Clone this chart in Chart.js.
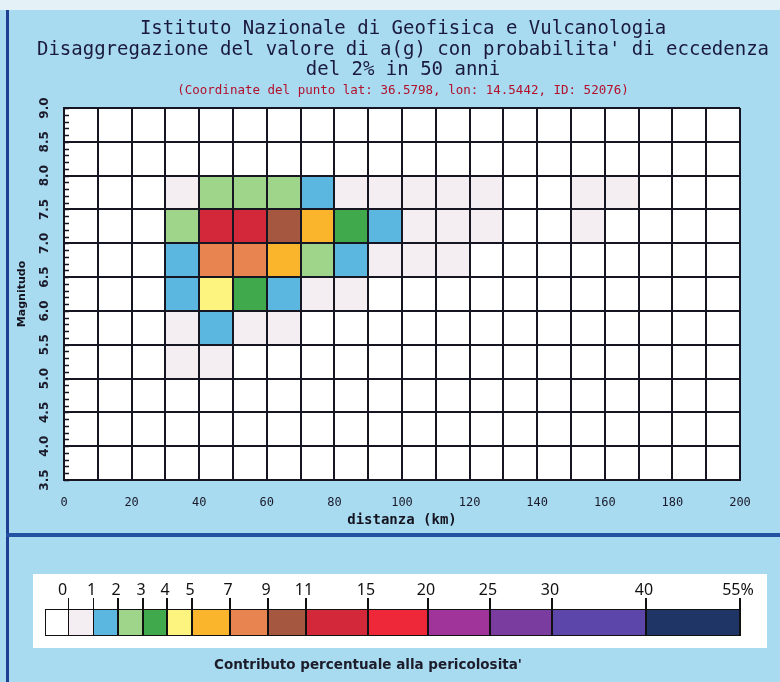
<!DOCTYPE html>
<html>
<head>
<meta charset="utf-8">
<script src="https://cdn.jsdelivr.net/npm/chart.js@4.4.1/dist/chart.umd.min.js"></script>
<style>
  html, body { margin:0; padding:0; }
  body { width:780px; height:682px; background:#a8daf0; position:relative; overflow:hidden; }
  #topstrip { position:absolute; left:0; top:0; width:780px; height:10px; background:#e4f1f7; }
  #leftborder { position:absolute; left:6px; top:10px; width:3px; height:672px; background:#1f3f92; }
  #sep { position:absolute; left:6px; top:533px; width:774px; height:4px; background:#2352a3; }
  #titles { position:absolute; left:6px; top:17px; width:794px; text-align:center;
            font-family:"DejaVu Sans Mono", monospace; font-size:19px; line-height:20.5px; color:#1a1a3c; }
  #subtitle { position:absolute; left:6px; top:83px; width:794px; text-align:center;
            font-family:"DejaVu Sans Mono", monospace; font-size:12.5px; line-height:14px; color:#b3102c; }
  #chartbox { position:absolute; left:0; top:0; width:780px; height:540px; }
  #legendpanel { position:absolute; left:33px; top:574px; width:734px; height:74px; background:#ffffff; }
  #legend { position:absolute; left:0; top:0; width:780px; height:682px; }
  .seg { position:absolute; top:610px; height:26px; }
  .tick { position:absolute; top:598px; width:1.5px; height:38px; background:#111; }
  .lab { position:absolute; top:580px; width:60px; margin-left:-32px; text-align:center;
         font-family:"Noto Sans", sans-serif; font-size:16px; line-height:18px; color:#111; }
  #barframe { position:absolute; left:45px; top:609px; width:695px; height:27px; border:1.5px solid #111; box-sizing:border-box; }
  #caption { position:absolute; left:0; top:656px; width:736px; text-align:center;
             font-family:"DejaVu Sans", sans-serif; font-weight:bold; font-size:13.5px; color:#1c1c2a; }
</style>
</head>
<body>
<div id="topstrip"></div>
<div id="chartbox"><canvas id="c"></canvas></div>
<div id="titles">Istituto Nazionale di Geofisica e Vulcanologia<br>Disaggregazione del valore di a(g) con probabilita' di eccedenza<br>del 2% in 50 anni</div>
<div id="subtitle">(Coordinate del punto lat: 36.5798, lon: 14.5442, ID: 52076)</div>
<div id="leftborder"></div>
<div id="sep"></div>
<div id="legendpanel"></div>
<div id="legend"></div>
<div id="caption">Contributo percentuale alla pericolosita'</div>
<script>
// ---- DATA ----
// distance bins (left edge, km), 10 km wide
const distanceBins = [0,10,20,30,40,50,60,70,80,90,100,110,120,130,140,150,160,170,180,190];
// magnitude bins (lower edge), 0.5 wide
const magnitudeBins = [3.5,4.0,4.5,5.0,5.5,6.0,6.5,7.0,7.5,8.0,8.5];
// percentage contribution per magnitude bin, one value per distance bin
const mag3_5 = [0,0,0,0,0,0,0,0,0,0,0,0,0,0,0,0,0,0,0,0];
const mag4_0 = [0,0,0,0,0,0,0,0,0,0,0,0,0,0,0,0,0,0,0,0];
const mag4_5 = [0,0,0,0,0,0,0,0,0,0,0,0,0,0,0,0,0,0,0,0];
const mag5_0 = [0,0,0,0.2,0.3,0,0,0,0,0,0,0,0,0,0,0,0,0,0,0];
const mag5_5 = [0,0,0,0.6,1.2,0.5,0.3,0,0,0,0,0,0,0,0,0,0,0,0,0];
const mag6_0 = [0,0,0,1.6,4.4,3.3,1.7,0.6,0.3,0,0,0,0,0,0,0,0,0,0,0];
const mag6_5 = [0,0,0,1.8,8.2,7.8,5.5,2.6,1.4,0.7,0.4,0.2,0,0,0,0,0,0,0,0];
const mag7_0 = [0,0,0,2.4,12.5,11.8,9.6,5.8,3.4,1.5,0.6,0.4,0.3,0,0,0.1,0,0,0,0];
const mag7_5 = [0,0,0,0.3,2.5,2.6,2.2,1.3,0.6,0.4,0.3,0.3,0.2,0,0,0.1,0.1,0,0,0];
const mag8_0 = [0,0,0,0,0,0,0,0,0,0,0,0,0,0,0,0,0,0,0,0];
const mag8_5 = [0,0,0,0,0,0,0,0,0,0,0,0,0,0,0,0,0,0,0,0];
const magnitudeRows = [mag3_5,mag4_0,mag4_5,mag5_0,mag5_5,mag6_0,mag6_5,mag7_0,mag7_5,mag8_0,mag8_5];
// axis tick labels
const xTickLabels = ['0','20','40','60','80','100','120','140','160','180','200'];
const yTickLabels = ['3.5','4.0','4.5','5.0','5.5','6.0','6.5','7.0','7.5','8.0','8.5','9.0'];
// colour classes (upper limits, %)
const legendBreaks = [0,1,2,3,4,5,7,9,11,15,20,25,30,40,55];
const legendColors = ['#f4eef3','#5bb7e0','#9fd58b','#3fa94c','#fdf37f','#fbb52d','#e8844f','#a5573f',
                      '#d3283a','#ee2838','#a1349b','#7a3d9f','#5c46aa','#1e3566'];
const zeroColor = '#ffffff';

function colorFor(v) {
  if (!(v > 0)) return zeroColor;
  for (let i = 1; i < legendBreaks.length; i++) if (v <= legendBreaks[i]) return legendColors[i-1];
  return legendColors[legendColors.length-1];
}

// ---- datasets: one floating-bar dataset per magnitude row ----
const datasets = magnitudeRows.map((row, r) => ({
  data: row.map((v, c) => ({x: distanceBins[c] + 5, y: [magnitudeBins[r], magnitudeBins[r] + 0.5], v}))
           .filter(p => p.v > 0),
  backgroundColor: ctx => colorFor(ctx.raw ? ctx.raw.v : 0),
  borderWidth: 0,
  grouped: false,
  categoryPercentage: 1,
  barPercentage: 1
}));
// ensure bar width computed over full 10 km spacing
datasets.push({ data: distanceBins.map(d => ({x: d + 5, y: [3.5, 3.5], v: 0})), backgroundColor: 'rgba(0,0,0,0)', borderWidth: 0, grouped:false, categoryPercentage:1, barPercentage:1 });

const plotBackground = {
  id: 'plotBackground',
  beforeDraw(chart) {
    const a = chart.chartArea, ctx = chart.ctx;
    ctx.save(); ctx.fillStyle = '#ffffff';
    ctx.fillRect(a.left, a.top, a.right - a.left, a.bottom - a.top);
    ctx.restore();
  }
};

const minorTicks = {
  id: 'minorTicks',
  afterDraw(chart) {
    const y = chart.scales.y, ctx = chart.ctx, left = chart.chartArea.left;
    ctx.save();
    ctx.strokeStyle = '#161622';
    ctx.lineWidth = 1.5;
    for (let k = 0; k <= 55; k++) {
      const v = 3.5 + k * 0.1;
      const py = Math.round(y.getPixelForValue(v)) + 0.5;
      ctx.beginPath(); ctx.moveTo(left, py); ctx.lineTo(left + 5, py); ctx.stroke();
    }
    ctx.restore();
  }
};

new Chart(document.getElementById('c'), {
  type: 'bar',
  data: { datasets },
  options: {
    responsive: true, maintainAspectRatio: false, animation: false,
    layout: { padding: { left: 8, right: 40, top: 108, bottom: 0 } },
    plugins: { legend: {display:false}, tooltip: {enabled:false}, title: {display:false} },
    scales: {
      x: {
        type: 'linear', min: 0, max: 200, offset: false,
        afterFit: s => { s.height = 60; },
        grid: { color: '#161622', lineWidth: 2, drawTicks: false, offset: false, z: 1 },
        border: { color: '#161622', width: 2, z: 1 },
        ticks: { stepSize: 10, autoSkip: false, maxRotation: 0, padding: 16, color: '#1a1a2a',
                 font: { family: 'DejaVu Sans Mono', size: 12 },
                 callback: v => (v % 20 === 0 ? xTickLabels[v / 20] : '') },
        title: { display: true, text: 'distanza (km)', color: '#141420',
                 font: { family: 'DejaVu Sans Mono', size: 14, weight: 'bold' }, padding: { top: 0, bottom: 11 } }
      },
      y: {
        type: 'linear', min: 3.5, max: 9.0,
        afterFit: s => { s.width = 56; },
        grid: { color: '#161622', lineWidth: 2, drawTicks: false, z: 1 },
        border: { color: '#161622', width: 2, z: 1 },
        ticks: { stepSize: 0.5, autoSkip: false, minRotation: 90, maxRotation: 90, crossAlign: 'center',
                 padding: 8, color: '#1a1a2a', font: { family: 'DejaVu Sans', size: 12, weight: 'bold' },
                 callback: (v) => yTickLabels[Math.round((v - 3.5) / 0.5)] },
        title: { display: true, text: 'Magnitudo', color: '#141420',
                 font: { family: 'DejaVu Sans', size: 11, weight: 'bold' }, padding: { top: 8, bottom: 0 } }
      }
    }
  },
  plugins: [plotBackground, minorTicks]
});

// ---- colour legend (HTML) ----
const legendX = [68.5,93.5,118,143,167,192,230,268,306,368,428,490,552,646,740];
const lg = document.getElementById('legend');
function add(cls, style, text) {
  const d = document.createElement('div'); d.className = cls;
  Object.assign(d.style, style); if (text !== undefined) d.textContent = text; lg.appendChild(d); return d;
}
add('seg', { left: '45px', width: (legendX[0] - 45) + 'px', background: zeroColor });
for (let i = 0; i < legendColors.length; i++) {
  add('seg', { left: legendX[i] + 'px', width: (legendX[i+1] - legendX[i]) + 'px', background: legendColors[i] });
}
add('', { position:'absolute' }).id = 'barframe';
legendBreaks.forEach((b, i) => {
  add('tick', { left: (legendX[i] - 0.75) + 'px' });
  add('lab', { left: (legendX[i] - (i === 0 ? 4 : 0)) + 'px' }, i === legendBreaks.length - 1 ? b + '%' : String(b));
});
</script>
</body>
</html>
